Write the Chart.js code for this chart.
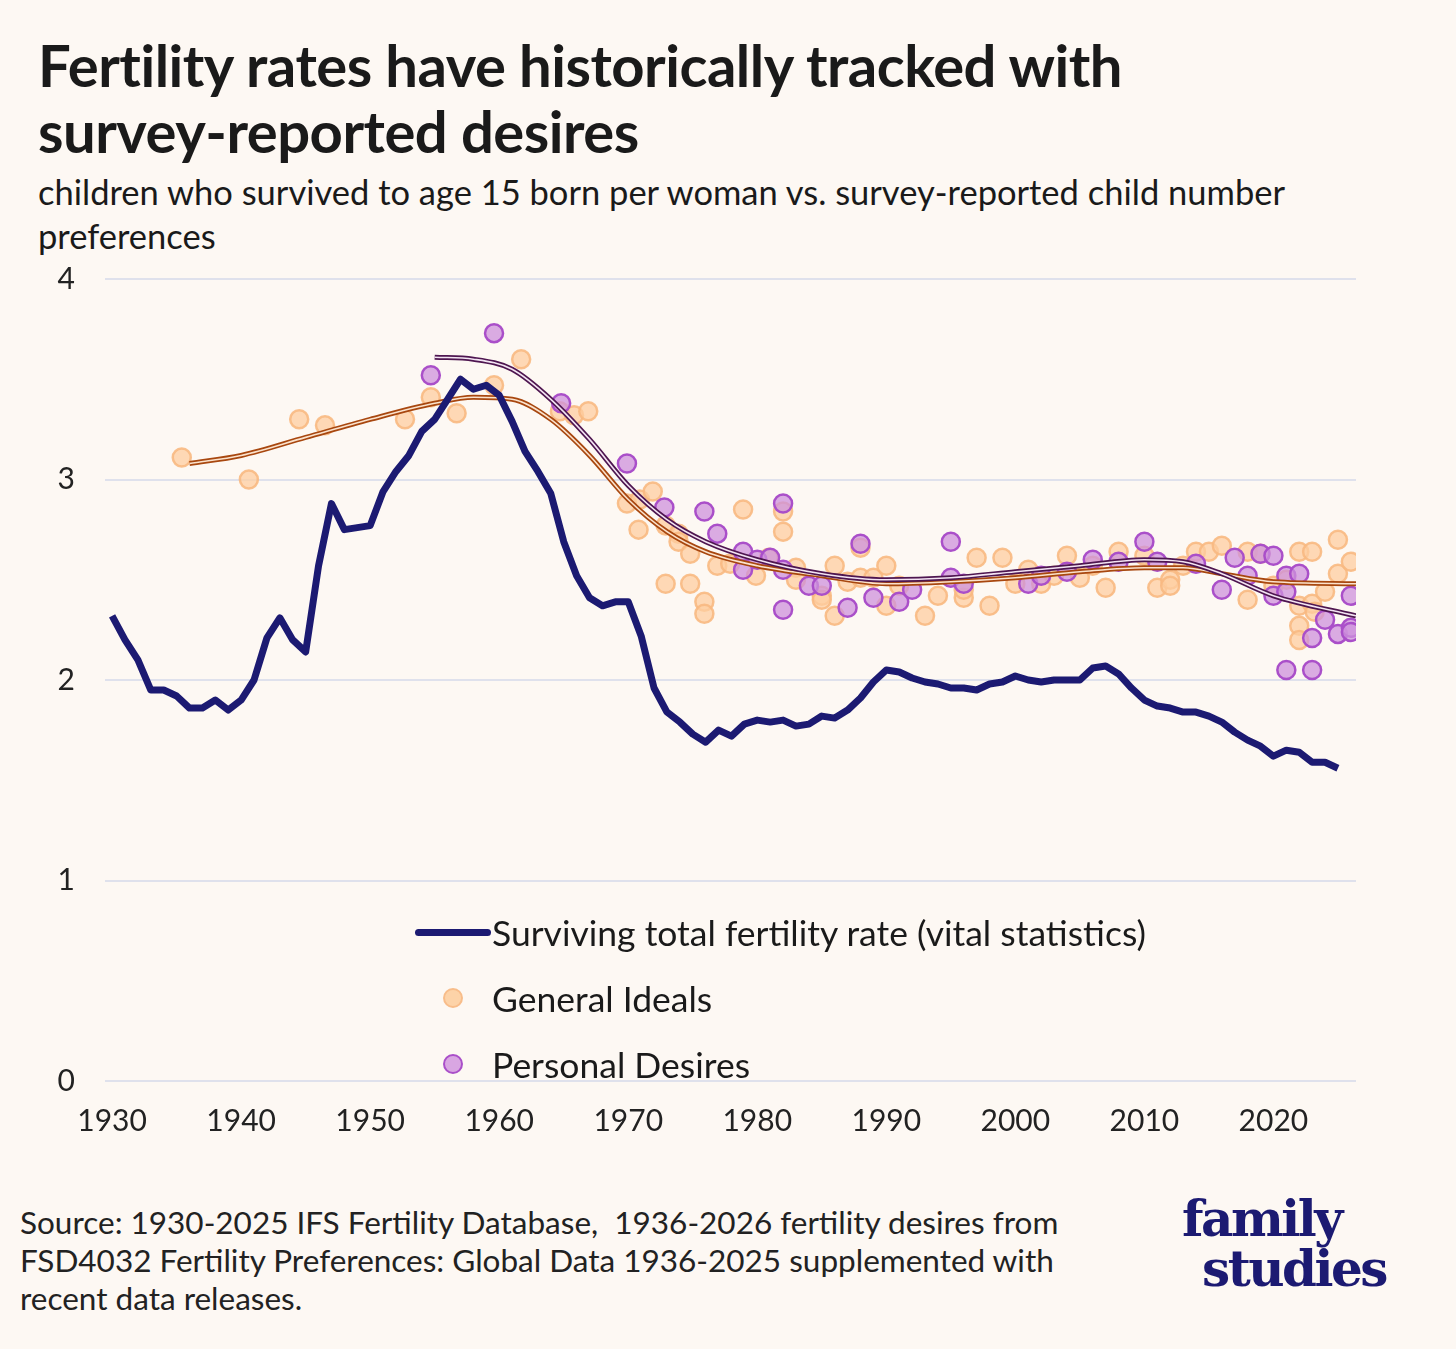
<!DOCTYPE html>
<html>
<head>
<meta charset="utf-8">
<script src="https://cdn.jsdelivr.net/npm/chart.js@4"></script>
<style>
  body { margin: 0; background: #fdf8f3; font-family: Lato, sans-serif; color: #1a1a1a; }
  #page { position: relative; width: 1456px; height: 1349px; overflow: hidden; }
  h1 { position: absolute; left: 38px; top: 32px; margin: 0; font-size: 58px; line-height: 66px; font-weight: 700; letter-spacing: -0.5px; }
  .sub { position: absolute; left: 38px; top: 170px; font-size: 34.5px; line-height: 44px; width: 1300px; }
  #wrap { position: absolute; left: 0; top: 231px; width: 1456px; height: 922px; }
  .legend { position: absolute; left: 414px; top: 899px; font-size: 35.5px; }
  .legend div { height: 66px; display: flex; align-items: center; }
  .sw { width: 78px; display: inline-flex; justify-content: center; }
  .line { width: 76px; height: 7px; background: #1c1a72; border-radius: 4px; }
  .dot { width: 16px; height: 16px; border-radius: 50%; border: 2px solid; }
  .src { position: absolute; left: 20px; top: 1203px; font-size: 31.5px; line-height: 38px; color: #222; }
  .logo { position: absolute; left: 1182px; top: 1194px; font-family: "DejaVu Serif", "Liberation Serif", serif; font-weight: bold; color: #1c1a72; font-size: 50px; line-height: 50px; letter-spacing: -2.5px; }
</style>
</head>
<body>
<div id="page">
  <h1>Fertility rates have historically tracked with<br>survey-reported desires</h1>
  <div class="sub">children who survived to age 15 born per woman vs. survey-reported child number preferences</div>
  <div id="wrap"><canvas id="c"></canvas></div>
  <div class="legend">
    <div><span class="sw"><span class="line"></span></span>Surviving total fertility rate (vital statistics)</div>
    <div><span class="sw"><span class="dot" style="background:#fdd3a8;border-color:#f8bd8a"></span></span>General Ideals</div>
    <div><span class="sw"><span class="dot" style="background:#d9a6e2;border-color:#aa4fc9"></span></span>Personal Desires</div>
  </div>
  <div class="src">Source: 1930-2025 IFS Fertility Database,&nbsp; 1936-2026 fertility desires from<br>FSD4032 Fertility Preferences: Global Data 1936-2025 supplemented with<br>recent data releases.</div>
  <div class="logo">family<br><span style="padding-left:20px">studies</span></div>
</div>
<script>
const years = [];
for (let y = 1930; y <= 2025; y++) years.push(y);
const tfr = [2.32,2.20,2.10,1.95,1.95,1.92,1.86,1.86,1.90,1.85,1.90,2.00,2.21,2.31,2.20,2.14,2.57,2.88,2.75,2.76,
  2.77,2.94,3.04,3.12,3.24,3.30,3.40,3.50,3.45,3.47,3.42,3.29,3.14,3.04,2.93,2.69,2.52,2.41,2.37,2.39,
  2.39,2.22,1.96,1.84,1.79,1.73,1.69,1.75,1.72,1.78,1.80,1.79,1.80,1.77,1.78,1.82,1.81,1.85,1.91,1.99,
  2.05,2.04,2.01,1.99,1.98,1.96,1.96,1.95,1.98,1.99,2.02,2.00,1.99,2.00,2.00,2.00,2.06,2.07,2.03,1.96,
  1.90,1.87,1.86,1.84,1.84,1.82,1.79,1.74,1.70,1.67,1.62,1.65,1.64,1.59,1.59,1.56];

const idealYears = [1935.4,1940.6,1944.5,1946.5,1952.7,1954.7,1956.7,1959.6,1961.7,1964.7,1965.8,1966.9,1969.9,1970.9,1971.9,1970.8,1972.9,1973.9,1973.9,1974.8,
  1972.9,1974.8,1975.9,1975.9,1976.9,1977.9,1978.9,1979.9,1980.9,1982,1982,1983,1983,1985,1985,1986,1986,1987,1988,1988,
  1989,1990,1990,1991,1993,1994,1996,1996,1997,1998,1999,2000,2001,2002,2003,2004,2005,2006,2007,2008,
  2010,2011,2012,2012,2013,2014,2015,2016,2018,2018,2019,2020,2021,2022,2022,2022,2022,2023,2023,2024,2025,2025,2026,2023.2];
const idealVals = [3.11,3.00,3.30,3.27,3.30,3.41,3.33,3.47,3.60,3.34,3.32,3.34,2.88,2.90,2.94,2.75,2.77,2.73,2.69,2.63,
  2.48,2.48,2.39,2.33,2.57,2.58,2.85,2.52,2.61,2.84,2.74,2.56,2.50,2.42,2.40,2.57,2.32,2.49,2.66,2.51,
  2.51,2.57,2.37,2.47,2.32,2.42,2.41,2.45,2.61,2.37,2.61,2.48,2.55,2.48,2.52,2.62,2.51,2.57,2.46,2.64,
  2.62,2.46,2.50,2.47,2.57,2.64,2.64,2.67,2.64,2.40,2.63,2.47,2.50,2.64,2.37,2.27,2.20,2.64,2.38,2.44,2.70,2.53,2.59,2.34];

const desireYears = [1954.7,1959.6,1964.8,1969.9,1972.8,1975.9,1976.9,1978.9,1978.9,1980,1981,1982,1982,1982,1984,1985,1987,1988,1989,1991,
  1992,1995,1995,1996,2001,2002,2004,2006,2008,2010,2011,2014,2016,2017,2018,2019,2020,2020,2021,2021,
  2021,2022,2023,2023,2024,2025,2026,2026,2026];
const desireVals = [3.52,3.73,3.38,3.08,2.86,2.84,2.73,2.64,2.55,2.60,2.61,2.88,2.55,2.35,2.47,2.47,2.36,2.68,2.41,2.39,
  2.45,2.69,2.51,2.48,2.48,2.52,2.54,2.60,2.59,2.69,2.59,2.58,2.45,2.61,2.52,2.63,2.62,2.42,2.52,2.44,
  2.05,2.53,2.21,2.05,2.30,2.23,2.26,2.24,2.42];

const idealTrendYears = [1936,1940,1945,1950,1955,1958,1961,1964,1967,1970,1973,1976,1980,1985,1990,1995,2000,2005,2010,2013,2016,2020,2026.4];
const idealTrend = [3.08,3.12,3.21,3.30,3.38,3.41,3.40,3.30,3.12,2.90,2.74,2.64,2.57,2.52,2.48,2.49,2.51,2.54,2.56,2.56,2.53,2.49,2.48];
const desireTrendYears = [1955,1958,1961,1964,1967,1970,1973,1976,1980,1985,1990,1995,2000,2005,2010,2013,2016,2020,2026.4];
const desireTrend = [3.61,3.60,3.55,3.40,3.20,2.97,2.80,2.69,2.60,2.53,2.50,2.51,2.54,2.57,2.60,2.59,2.53,2.42,2.32];

const xTicks = [1930,1940,1950,1960,1970,1980,1990,2000,2010,2020];
const yTicks = [0,1,2,3,4];

const pts = (xs, ys) => xs.map((x, i) => ({ x: x, y: ys[i] }));
const trend = (data, color, width) => ({
  type: 'line', data: data, borderColor: color, borderWidth: width, pointRadius: 0,
  cubicInterpolationMode: 'monotone', fill: false
});

new Chart(document.getElementById('c'), {
  data: {
    datasets: [
      { type: 'line', data: pts(years, tfr), borderColor: '#1c1a72', borderWidth: 7, pointRadius: 0, tension: 0, borderJoinStyle: 'round', order: 1 },
      { type: 'scatter', data: pts(idealYears, idealVals), backgroundColor: 'rgba(253,205,160,0.75)', borderColor: 'rgba(248,185,130,0.9)', borderWidth: 2.5, pointRadius: 9, order: 4 },
      { type: 'scatter', data: pts(desireYears, desireVals), backgroundColor: 'rgba(205,145,220,0.75)', borderColor: '#aa4fc9', borderWidth: 2.5, pointRadius: 9, order: 3 },
      Object.assign(trend(pts(idealTrendYears, idealTrend), '#a8470f', 5), { order: 2.6 }),
      Object.assign(trend(pts(idealTrendYears, idealTrend), '#fbe2cc', 1.6), { order: 2.5 }),
      Object.assign(trend(pts(desireTrendYears, desireTrend), '#4e1650', 5), { order: 2.4 }),
      Object.assign(trend(pts(desireTrendYears, desireTrend), '#f3e4f3', 1.6), { order: 2.3 })
    ]
  },
  options: {
    responsive: true, maintainAspectRatio: false, animation: false,
    layout: { padding: { top: 17, right: 100, left: 0, bottom: 0 } },
    plugins: { legend: { display: false }, tooltip: { enabled: false } },
    scales: {
      x: {
        type: 'linear', min: 1929.45, max: 2026.4,
        afterBuildTicks: ax => { ax.ticks = xTicks.map(v => ({ value: v })); },
        grid: { display: false }, border: { display: false },
        ticks: { color: '#222', font: { family: 'Lato', size: 30 }, padding: 14, maxRotation: 0, callback: v => String(v) }
      },
      y: {
        min: 0, max: 4,
        afterBuildTicks: ax => { ax.ticks = yTicks.map(v => ({ value: v })); },
        afterFit: ax => { ax.width = 105; },
        grid: { color: '#dfe1ec', lineWidth: 2, drawTicks: false }, border: { display: false },
        ticks: { color: '#222', font: { family: 'Lato', size: 30 }, padding: 30 }
      }
    }
  }
});
</script>
</body>
</html>
